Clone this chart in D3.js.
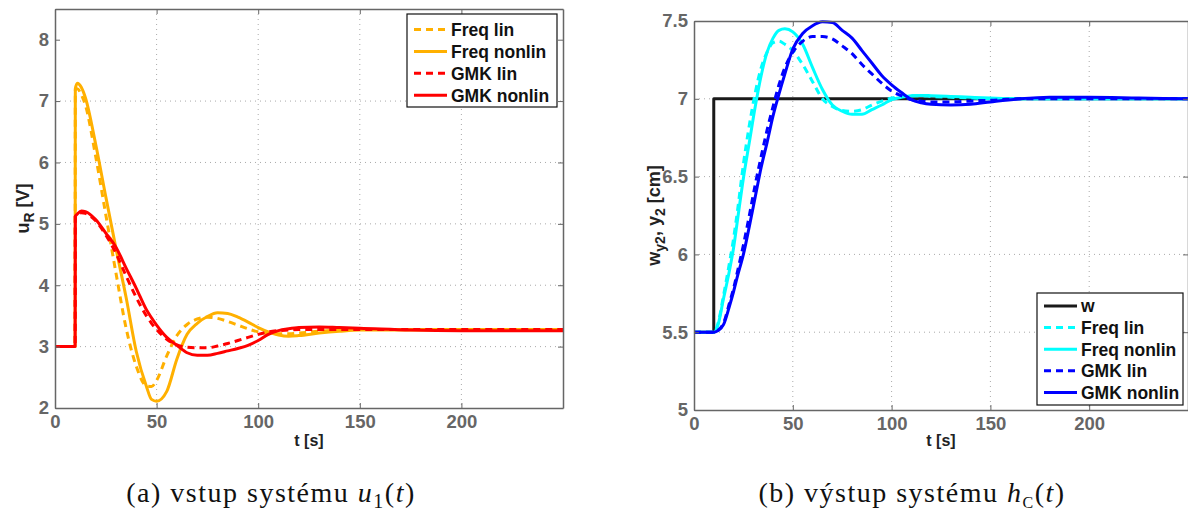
<!DOCTYPE html>
<html>
<head>
<meta charset="utf-8">
<script src="https://cdn.jsdelivr.net/npm/d3@7"></script>
<style>
  body { margin: 0; background: #fff; }
  svg { display: block; font-family: "Liberation Sans", Arial, sans-serif; }
</style>
</head>
<body>
<svg id="chart" width="1188" height="516"></svg>
<script>
// ---- left panel: u_R [V] ----
var tLeft = [0, 9.9, 10, 11, 13, 15, 20, 25, 30, 35, 40, 45, 47.5, 50, 55, 60, 65, 70, 75, 80,
             85, 90, 95, 100, 105, 110, 115, 120, 130, 140, 150, 175, 200, 225, 250];
var uFreqLin = [3, 3, 7.18, 7.2, 7.1, 6.93, 6.1, 5.15, 4.2, 3.3, 2.68, 2.36, 2.35, 2.45, 2.85, 3.18, 3.36, 3.45, 3.48, 3.46,
                3.41, 3.35, 3.29, 3.24, 3.22, 3.21, 3.21, 3.22, 3.25, 3.27, 3.28, 3.28, 3.28, 3.28, 3.28];
var uFreqNonlin = [3, 3, 7.2, 7.29, 7.22, 7.05, 6.3, 5.44, 4.6, 3.8, 2.92, 2.35, 2.14, 2.11, 2.27, 2.8, 3.2, 3.38, 3.49, 3.55,
                   3.54, 3.48, 3.4, 3.31, 3.24, 3.19, 3.17, 3.18, 3.22, 3.25, 3.27, 3.27, 3.27, 3.27, 3.27];
var uGmkLin = [3, 3, 5.12, 5.15, 5.18, 5.17, 5.05, 4.82, 4.52, 4.15, 3.8, 3.5, 3.38, 3.28, 3.12, 3.03, 2.99, 2.98, 2.98, 3.01,
               3.05, 3.1, 3.15, 3.2, 3.24, 3.26, 3.27, 3.28, 3.28, 3.28, 3.28, 3.28, 3.28, 3.28, 3.28];
var uGmkNonlin = [3, 3, 5.12, 5.16, 5.21, 5.2, 5.07, 4.85, 4.62, 4.28, 3.95, 3.6, 3.47, 3.35, 3.15, 3.02, 2.9, 2.86, 2.86, 2.89,
                  2.93, 2.97, 3.02, 3.1, 3.2, 3.26, 3.29, 3.31, 3.32, 3.31, 3.3, 3.27, 3.26, 3.26, 3.26];

// ---- right panel: w_y2, y_2 [cm] ----
var tW = [0, 10, 250];
var wRef = [5.5, 7, 7];
var tRight = [0, 10, 12, 15, 18, 20, 22, 25, 28, 31, 34, 37, 40, 43, 46, 50, 55, 60, 65, 70,
              75, 80, 85, 90, 95, 100, 105, 110, 115, 120, 130, 140, 150, 165, 180, 200, 225, 250];
var yFreqLin = [5.5, 5.5, 5.55, 5.74, 5.95, 6.1, 6.28, 6.58, 6.83, 7.04, 7.2, 7.3, 7.36, 7.37, 7.35, 7.31, 7.22, 7.11, 7.0, 6.95,
                6.925, 6.92, 6.93, 6.96, 6.985, 7.005, 7.015, 7.02, 7.02, 7.015, 7.01, 7.005, 7.0, 7.0, 7.0, 7.0, 7.0, 7.0];
var yFreqNonlin = [5.5, 5.5, 5.54, 5.72, 5.9, 6.04, 6.22, 6.49, 6.72, 6.95, 7.15, 7.3, 7.39, 7.44, 7.45, 7.43, 7.35, 7.2, 7.06, 6.96,
                   6.92, 6.9, 6.9, 6.93, 6.96, 6.995, 7.01, 7.02, 7.022, 7.02, 7.015, 7.01, 7.005, 7.0, 7.0, 7.0, 7.0, 7.0];
var yGmkLin = [5.5, 5.5, 5.51, 5.56, 5.69, 5.78, 5.89, 6.06, 6.25, 6.45, 6.63, 6.8, 6.95, 7.09, 7.2, 7.3, 7.37, 7.4, 7.4, 7.385,
               7.34, 7.29, 7.22, 7.16, 7.1, 7.05, 7.02, 6.995, 6.985, 6.98, 6.98, 6.985, 6.99, 7.0, 7.0, 7.0, 7.0, 7.0];
var yGmkNonlin = [5.5, 5.5, 5.51, 5.55, 5.67, 5.76, 5.86, 6.0, 6.18, 6.37, 6.56, 6.72, 6.89, 7.03, 7.16, 7.32, 7.42, 7.47, 7.495, 7.49,
                  7.44, 7.39, 7.31, 7.23, 7.15, 7.09, 7.04, 6.995, 6.975, 6.965, 6.96, 6.965, 6.98, 7.0, 7.01, 7.01, 7.005, 7.0];

var xTicks = [0, 50, 100, 150, 200];
var yTicksLeft = [2, 3, 4, 5, 6, 7, 8];
var yTicksRight = [5, 5.5, 6, 6.5, 7, 7.5];

var svg = d3.select("#chart");

function zip(t, v) {
  return t.map(function (d, i) { return [d, v[i]]; });
}

function drawPanel(p) {
  var x = d3.scaleLinear().domain([0, 250]).range([p.left, p.right]);
  var y = d3.scaleLinear().domain(p.yDomain).range([p.bottom, p.top]);
  var g = svg.append("g");

  // dotted grid
  g.selectAll(".gx").data(xTicks.slice(1)).enter().append("line")
    .attr("x1", d => x(d)).attr("x2", d => x(d))
    .attr("y1", p.top).attr("y2", p.bottom)
    .attr("stroke", "#aaa").attr("stroke-width", 1).attr("stroke-dasharray", "1,4");
  g.selectAll(".gy").data(p.yTicks.slice(1, -1)).enter().append("line")
    .attr("x1", p.left).attr("x2", p.right)
    .attr("y1", d => y(d)).attr("y2", d => y(d))
    .attr("stroke", "#aaa").attr("stroke-width", 1).attr("stroke-dasharray", "1,4");

  var line = d3.line()
    .x(d => x(d[0]))
    .y(d => y(d[1]));

  p.series.forEach(function (s) {
    g.append("path")
      .datum(zip(s.t, s.v))
      .attr("fill", "none")
      .attr("stroke", s.color)
      .attr("stroke-width", 3)
      .attr("stroke-dasharray", s.dash ? "7,5" : null)
      .attr("stroke-linejoin", "round")
      .attr("d", line.curve(s.curve || d3.curveMonotoneX));
  });

  // axes box with inward ticks (matlab style)
  var xAxis = d3.axisBottom(x).tickValues(xTicks).tickSizeInner(-5).tickSizeOuter(0).tickPadding(7);
  var xAxisTop = d3.axisTop(x).tickValues(xTicks).tickSizeInner(-5).tickSizeOuter(0).tickFormat("");
  var yAxis = d3.axisLeft(y).tickValues(p.yTicks).tickSizeInner(-5).tickSizeOuter(0).tickPadding(6)
    .tickFormat(d3.format("~g"));
  var yAxisRight = d3.axisRight(y).tickValues(p.yTicks).tickSizeInner(-5).tickSizeOuter(0).tickFormat("");

  var axes = [
    g.append("g").attr("transform", `translate(0,${p.bottom})`).call(xAxis),
    g.append("g").attr("transform", `translate(0,${p.top})`).call(xAxisTop),
    g.append("g").attr("transform", `translate(${p.left},0)`).call(yAxis),
    g.append("g").attr("transform", `translate(${p.right},0)`).call(yAxisRight)
  ];
  axes.forEach(function (a) {
    a.select(".domain").attr("stroke", "#666").attr("stroke-width", 1.5);
    a.selectAll(".tick line").attr("stroke", "#666");
    a.selectAll(".tick text")
      .attr("fill", "#666")
      .style("font-size", "18.5px")
      .style("font-weight", "bold")
      .style("font-family", "'Liberation Sans', Arial, sans-serif");
  });

  // axis labels
  g.append("text")
    .attr("x", (p.left + p.right) / 2).attr("y", 446)
    .attr("text-anchor", "middle")
    .style("font-size", "16px").style("font-weight", "bold")
    .attr("fill", "#222")
    .text("t [s]");

  var yl = g.append("text")
    .attr("transform", `translate(${p.ylabelX},${(p.top + p.bottom) / 2}) rotate(-90)`)
    .attr("text-anchor", "middle")
    .style("font-size", "18px").style("font-weight", "bold")
    .attr("fill", "#222");
  p.ylabel.forEach(function (part) {
    var ts = yl.append("tspan").text(part.text);
    if (part.sub) ts.attr("dy", 5).style("font-size", "14px");
    if (part.back) ts.attr("dy", -5);
  });

  // legend
  var lg = g.append("g");
  lg.append("rect")
    .attr("x", p.legend.x).attr("y", p.legend.y)
    .attr("width", p.legend.w).attr("height", p.legend.h)
    .attr("fill", "#fff").attr("stroke", "#111").attr("stroke-width", 1.2);
  p.series.forEach(function (s, i) {
    var ry = p.legend.y + p.legend.first + i * p.legend.step;
    lg.append("line")
      .attr("x1", p.legend.x + 7).attr("x2", p.legend.x + 40)
      .attr("y1", ry).attr("y2", ry)
      .attr("stroke", s.color).attr("stroke-width", 3)
      .attr("stroke-dasharray", s.dash ? "7,5" : null);
    lg.append("text")
      .attr("x", p.legend.x + 44).attr("y", ry)
      .attr("dy", "0.36em")
      .style("font-size", "17.5px").style("font-weight", "bold")
      .attr("fill", "#111")
      .text(s.name);
  });

  // caption
  var cap = svg.append("text")
    .attr("x", p.captionX).attr("y", 502)
    .attr("text-anchor", "middle")
    .style("font-family", "'Liberation Serif', 'Times New Roman', serif")
    .style("font-size", "28px")
    .style("letter-spacing", "1.5px")
    .attr("fill", "#111");
  p.caption.forEach(function (part) {
    var ts = cap.append("tspan").text(part.text);
    if (part.italic) ts.style("font-style", "italic");
    if (part.sub) ts.attr("dy", 6).style("font-size", part.subSize || "20px");
    if (part.back) ts.attr("dy", -6);
  });
}

drawPanel({
  left: 55, right: 563, top: 9, bottom: 408,
  yDomain: [2, 8.5], yTicks: yTicksLeft, ylabelX: 29,
  ylabel: [{ text: "u" }, { text: "R", sub: true }, { text: " [V]", back: true }],
  series: [
    { name: "Freq lin", t: tLeft, v: uFreqLin, color: "#ffb000", dash: true },
    { name: "Freq nonlin", t: tLeft, v: uFreqNonlin, color: "#ffb000" },
    { name: "GMK lin", t: tLeft, v: uGmkLin, color: "#ff0000", dash: true },
    { name: "GMK nonlin", t: tLeft, v: uGmkNonlin, color: "#ff0000" }
  ],
  legend: { x: 407, y: 14, w: 150, h: 93, first: 15.5, step: 21.9 },
  captionX: 271,
  caption: [{ text: "(a) vstup systému " }, { text: "u", italic: true }, { text: "1", sub: true },
            { text: "(", back: true }, { text: "t", italic: true }, { text: ")" }]
});

drawPanel({
  left: 694, right: 1188, top: 21, bottom: 410,
  yDomain: [5, 7.5], yTicks: yTicksRight, ylabelX: 660,
  ylabel: [{ text: "w" }, { text: "y2", sub: true }, { text: ", y", back: true }, { text: "2", sub: true },
           { text: " [cm]", back: true }],
  series: [
    { name: "w", t: tW, v: wRef, color: "#1a1a1a", curve: d3.curveStepAfter },
    { name: "Freq lin", t: tRight, v: yFreqLin, color: "#00ffff", dash: true },
    { name: "Freq nonlin", t: tRight, v: yFreqNonlin, color: "#00ffff" },
    { name: "GMK lin", t: tRight, v: yGmkLin, color: "#0000ff", dash: true },
    { name: "GMK nonlin", t: tRight, v: yGmkNonlin, color: "#0000ff" }
  ],
  legend: { x: 1037, y: 293, w: 146, h: 112, first: 13, step: 21.6 },
  captionX: 912,
  caption: [{ text: "(b) výstup systému " }, { text: "h", italic: true }, { text: "C", sub: true, subSize: "16px" },
            { text: "(", back: true }, { text: "t", italic: true }, { text: ")" }]
});
</script>
</body>
</html>
